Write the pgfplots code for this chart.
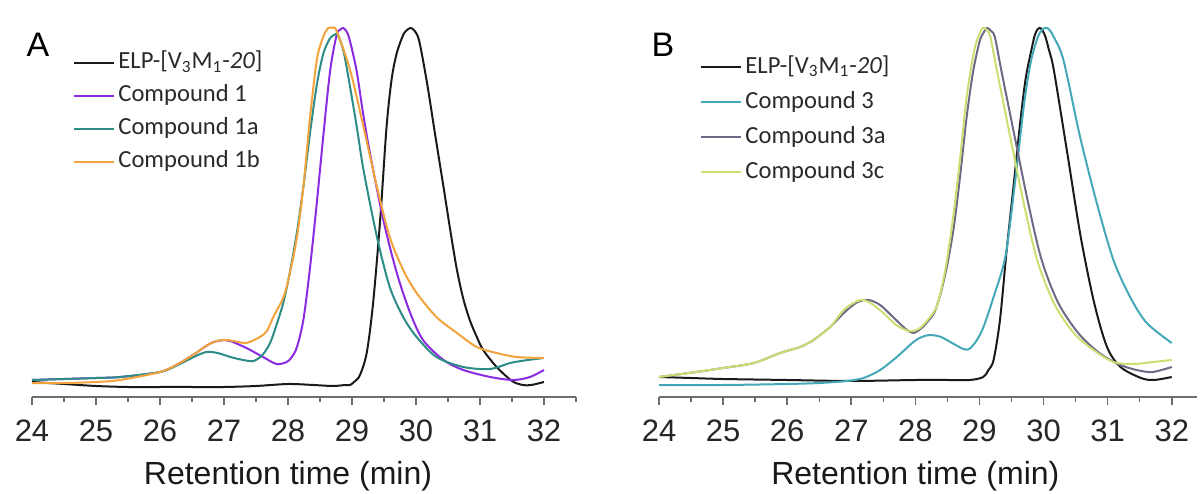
\documentclass[border=0pt]{standalone}
\usepackage{pgfplots}
\pgfplotsset{compat=1.18}
\usepackage{fontspec}
\setmainfont{Liberation Sans}
\newfontfamily\carlito{Carlito}
\definecolor{cblack}{HTML}{1A1A1A}
\definecolor{cpurple}{HTML}{8A2BE2}
\definecolor{cteal}{HTML}{2E8C87}
\definecolor{corange}{HTML}{F2A33C}
\definecolor{ccyan}{HTML}{45A8B8}
\definecolor{cgraypurp}{HTML}{6E6A86}
\definecolor{cyellow}{HTML}{CADF72}
\definecolor{axgray}{HTML}{6E6E6E}
\definecolor{legtext}{HTML}{2A2A2A}
\pgfplotsset{
  chromstyle/.style={
    scale only axis, width=272pt, height=192.5pt,
    ymin=0, ymax=385, xmin=24,
    axis x line=bottom, axis y line=none,
    x axis line style={-, axgray, line width=1.1pt},
    xtick={24,25,...,32},
    tick align=outside,
    major tick length=4pt, minor tick length=2.5pt,
    tick style={axgray, line width=0.8pt},
    every minor tick/.style={axgray, line width=0.7pt},
    ytick=\empty,
    /pgf/number format/assume math mode=true,
    xticklabel style={font=\fontsize{15.5}{17}\selectfont, text=black!85, yshift=-4pt},
    clip=false,
    legend cell align=left,
    legend image code/.code={\draw[##1] (0pt,0pt) -- (20pt,0pt);},
    legend style={draw=none, fill=none, anchor=north west,
      font=\carlito\fontsize{12.3}{14}\selectfont, text=legtext,
      inner sep=0pt,
      nodes={inner sep=1.5pt, text height=9pt, text depth=3pt}},
    every axis plot/.append style={line width=1pt, smooth, tension=0.5},
  }
}
\begin{document}
\begin{tikzpicture}
\useasboundingbox (0,0) rectangle (600pt,246.5pt);
% ---------------- Panel A ----------------
\begin{axis}[chromstyle, at={(16pt,48pt)}, anchor=south west, xmax=32.5,
  minor xtick={24.5,25.5,...,32.5},
  legend style={at={(rel axis cs:0.0754,0.908)}, row sep=1.5pt}]
\addplot[cblack] coordinates {(24.0,15) (24.5,13) (25.0,11) (25.5,10) (26,10) (26.5,10) (27,10) (27.5,11) (28,13) (28.4,12) (28.7,11) (28.9,12) (28.97,12) (29.05,16) (29.125,22) (29.23,44) (29.33,94) (29.44,177) (29.54,270) (29.62,318) (29.70,344) (29.8,362) (29.86,367) (29.92,369) (29.98,366) (30.05,356) (30.17,315) (30.3,262) (30.43,210) (30.54,165) (30.64,127) (30.74,98) (30.84,77) (30.95,60) (31.05,47) (31.26,30) (31.5,16) (31.67,12) (31.8,12) (32,15)};
\addlegendentry{ELP-[V\textsubscript{3}M\textsubscript{1}-\textit{20}]}
\addplot[cpurple] coordinates {(24,17) (24.5,18) (25,19) (25.375,20) (26,25) (26.31,34) (26.56,44) (26.8,54) (27.0,57) (27.1,56) (27.35,49) (27.61,40) (27.82,33) (27.98,35) (28.06,40) (28.14,50) (28.24,77) (28.34,127) (28.45,194) (28.55,260) (28.66,327) (28.76,362) (28.81,367) (28.86,369) (28.91,366) (28.96,358) (29.07,327) (29.17,285) (29.28,244) (29.49,177) (29.70,124) (29.91,84) (30.11,57) (30.43,37) (30.74,27) (31.16,20) (31.52,17) (31.78,20) (32,27)};
\addlegendentry{Compound 1}
\addplot[cteal] coordinates {(24,17) (24.5,18) (25,19) (25.375,20) (26,25) (26.31,33) (26.56,41) (26.73,45) (26.9,44) (27.1,40) (27.3,37) (27.46,36) (27.6,42) (27.72,54) (27.82,72) (27.93,95) (28.03,125) (28.14,165) (28.24,210) (28.34,262) (28.45,312) (28.55,343) (28.65,358) (28.72,362) (28.78,362) (28.87,345) (28.97,310) (29.08,268) (29.18,227) (29.39,160) (29.59,110) (29.80,80) (30.01,60) (30.32,40) (30.74,30) (31.16,28) (31.47,34) (31.75,37) (32,39)};
\addlegendentry{Compound 1a}
\addplot[corange] coordinates {(24,14) (24.5,14) (25,15) (25.375,17) (26,25) (26.31,34) (26.56,44) (26.8,54) (26.99,57) (27.15,56) (27.35,54) (27.56,60) (27.67,66) (27.77,80) (27.93,100) (28.03,124) (28.14,160) (28.24,210) (28.34,277) (28.45,337) (28.55,360) (28.63,369) (28.7,369) (28.76,366) (28.97,327) (29.18,270) (29.39,210) (29.59,160) (29.80,127) (30.01,104) (30.32,80) (30.64,64) (30.95,50) (31.26,44) (31.57,40) (32,39)};
\addlegendentry{Compound 1b}
\node[font=\fontsize{17}{18}\selectfont] at (axis description cs:0.011,0.916) {A};
\node[font=\fontsize{16}{18}\selectfont, text=black!90, anchor=base] at (axis cs:28,0) [yshift=-43.5pt] {Retention time (min)};
\end{axis}
% ---------------- Panel B ----------------
\begin{axis}[chromstyle, at={(329.5pt,48pt)}, anchor=south west, xmax=32.4, width=269.2pt,
  minor xtick={24.5,25.5,...,31.5},
  legend style={at={(rel axis cs:0.0762,0.897)}, row sep=2.5pt}]
\addplot[cblack] coordinates {(24,20) (24.5,19) (25,18) (26,17) (27,16) (28,17) (28.5,17) (28.85,17) (29.06,20) (29.14,27) (29.22,37) (29.32,77) (29.42,144) (29.53,210) (29.64,277) (29.72,318) (29.80,344) (29.86,361) (29.9,367) (29.94,369) (29.98,367) (30.03,360) (30.08,348) (30.16,327) (30.37,244) (30.58,160) (30.79,94) (30.99,50) (31.2,30) (31.52,19) (31.72,17) (32,20)};
\addlegendentry{ELP-[V\textsubscript{3}M\textsubscript{1}-\textit{20}]}
\addplot[ccyan] coordinates {(24,12) (25,12) (26,13) (26.5,14) (26.93,16) (27.19,19) (27.45,27) (27.71,40) (27.97,55) (28.1,60) (28.23,62) (28.4,60) (28.6,53) (28.75,48) (28.84,48) (28.95,56) (29.05,68) (29.15,86) (29.25,106) (29.35,126) (29.42,146) (29.5,185) (29.6,240) (29.7,295) (29.8,335) (29.9,358) (29.96,366) (30.02,369) (30.08,368) (30.15,361) (30.31,337) (30.57,260) (30.83,194) (31.09,137) (31.35,100) (31.61,74) (32,54)};
\addlegendentry{Compound 3}
\addplot[cgraypurp] coordinates {(24,20) (24.58,25) (25,29) (25.48,34) (25.89,44) (26.2,50) (26.41,57) (26.67,70) (26.9,85) (27.1,95) (27.27,97) (27.45,92) (27.65,80) (27.85,68) (27.97,64) (28.1,69) (28.2,76) (28.3,85) (28.4,105) (28.5,133) (28.6,170) (28.7,222) (28.8,280) (28.9,325) (29.0,355) (29.06,364) (29.12,369) (29.18,366) (29.24,360) (29.34,327) (29.55,260) (29.76,194) (29.97,137) (30.23,94) (30.54,64) (30.85,45) (31.16,33) (31.45,27) (31.7,25) (32,30)};
\addlegendentry{Compound 3a}
\addplot[cyellow] coordinates {(24,20) (24.58,25) (25,29) (25.48,34) (25.89,44) (26.2,50) (26.41,57) (26.67,70) (26.9,88) (27.14,97) (27.3,94) (27.5,84) (27.7,72) (27.9,66) (28.05,68) (28.18,76) (28.33,90) (28.43,115) (28.5,140) (28.59,180) (28.7,240) (28.8,300) (28.91,344) (28.98,360) (29.05,369) (29.11,367) (29.17,360) (29.27,327) (29.48,260) (29.69,194) (29.90,137) (30.16,94) (30.47,64) (30.78,47) (31.09,35) (31.40,33) (31.71,35) (32,37)};
\addlegendentry{Compound 3c}
\node[font=\fontsize{17}{18}\selectfont] at (axis description cs:0.0074,0.914) {B};
\node[font=\fontsize{16}{18}\selectfont, text=black!90, anchor=base] at (axis cs:28,0) [yshift=-43.5pt] {Retention time (min)};
\end{axis}
\end{tikzpicture}
\end{document}
